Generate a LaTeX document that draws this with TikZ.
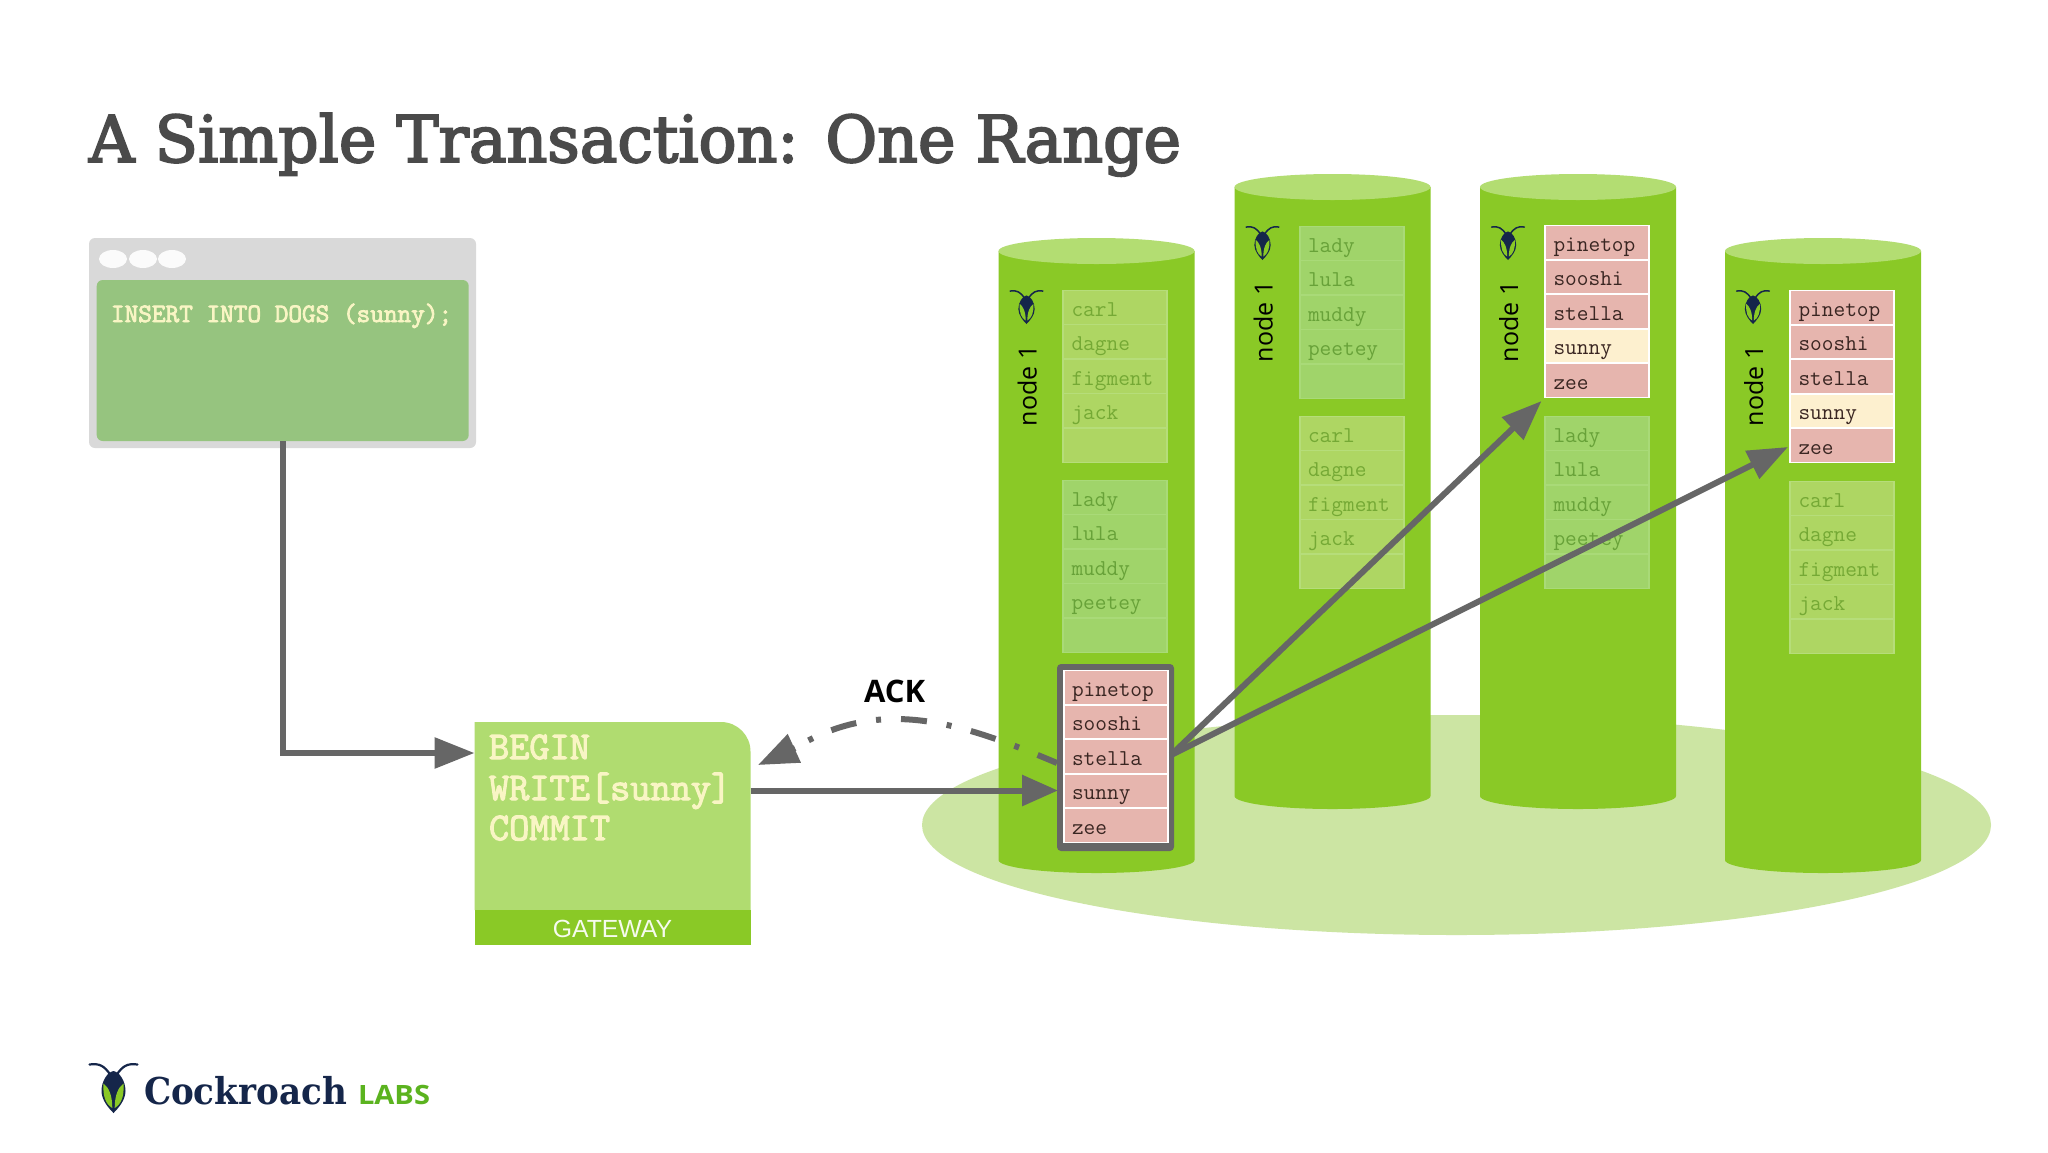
\documentclass[tikz,border=0pt]{standalone}
\usepackage{fontspec}
\usepackage{graphicx}
\setmainfont{Liberation Sans}
\setmonofont{Latin Modern Mono}
\newfontfamily\slabfont[FakeBold=3]{DejaVu Serif}
\newfontfamily\logofont{DejaVu Serif}
\newfontfamily\ackfont{Open Sans}
\newfontfamily\boldmono[FakeBold=3]{Latin Modern Mono}
\usetikzlibrary{arrows.meta,calc}
\definecolor{cylgreen}{HTML}{8AC926}
\definecolor{cyltop}{HTML}{B3DD72}
\definecolor{platform}{HTML}{CCE5A3}
\definecolor{gwlight}{HTML}{B0DC70}
\definecolor{conn}{HTML}{666666}
\definecolor{titlegrey}{HTML}{4A4A4A}
\definecolor{winouter}{HTML}{D9D9D9}
\definecolor{wininner}{HTML}{96C47F}
\definecolor{cream}{HTML}{F9F5C4}
\definecolor{pinkrow}{HTML}{E6B5AE}
\definecolor{pinktext}{HTML}{3A2622}
\definecolor{yellowrow}{HTML}{FDF0CF}
\definecolor{navy}{HTML}{15264A}
\definecolor{labsgreen}{HTML}{5BB31F}
\definecolor{fadeAborder}{HTML}{B6DD7A}
\definecolor{fadeArow}{HTML}{AED663}
\definecolor{fadeAtext}{HTML}{75A935}
\definecolor{fadeBborder}{HTML}{A9DA78}
\definecolor{fadeBrow}{HTML}{A0D46A}
\definecolor{fadeBtext}{HTML}{68A239}
\tikzset{
  plain/.style={inner sep=0pt,outer sep=0pt},
  monotext/.style={plain,anchor=base west,text=#1,font=\fontsize{11.35pt}{13pt}\ttfamily},
  connector/.style={draw=conn,line width=3pt},
  head/.style={-{Triangle[length=20pt,width=15pt]}},
  nodelabel/.style={plain,anchor=base west,rotate=90,font=\fontsize{12.5pt}{14pt}\ackfont,text=black},
  stackbox/.style={plain,minimum width=53pt,minimum height=86.25pt},
  gwtext/.style={plain,anchor=base west,text=cream,font=\fontsize{19.6pt}{22pt}\boldmono},
}
% name, x, y, border, row, text, highlighted row, labels, half gap between rows
\newcommand{\datastack}[9]{%
  \node[stackbox,anchor=north west,fill=#4] (#1) at (#2,#3) {};
  \foreach \r in {0,...,4}{%
    \ifnum\r=#7\relax\def\rc{yellowrow}\else\def\rc{#5}\fi
    \fill[\rc] ({#2+2},{#3+34.5*\r+#9}) rectangle ({#2+104},{#3+34.5*(\r+1)-#9});
  }
  \foreach \w [count=\r from 0] in {#8}{%
    \node[monotext=#6] (#1-\r) at ({#2+9.5},{#3+26+34.5*\r}) {\w};
  }
}
% x, y (top centre), scale, wing colour
\newcommand{\roach}[4]{%
  \begin{scope}[shift={(#1,#2)},scale=#3]
    \draw[navy,line width={1.1pt*#3},line cap=round] (-3,12) .. controls (-9,3) and (-14,0) .. (-24,1.5);
    \draw[navy,line width={1.1pt*#3},line cap=round] (3,12) .. controls (9,3) and (14,0) .. (24,1.5);
    \fill[navy] (0,8) .. controls (6,9) and (12,18) .. (12,28) .. controls (12,37) and (5,45) .. (0,50)
       .. controls (-5,45) and (-12,37) .. (-12,28) .. controls (-12,18) and (-6,9) .. (0,8) -- cycle;
    \fill[#4] (-1.2,45) .. controls (-8,41) and (-10.8,33) .. (-10,20.5) .. controls (-5,24) and (-1.2,32) .. (-1.2,45) -- cycle;
    \fill[#4] (1.2,45) .. controls (8,41) and (10.8,33) .. (10,20.5) .. controls (5,24) and (1.2,32) .. (1.2,45) -- cycle;
  \end{scope}
}
% x, top, bottom, name
\newcommand{\cyl}[4]{%
  \fill[cylgreen] (#1,{#2+13}) -- (#1,{#3-13}) arc[start angle=180,end angle=0,x radius=98,y radius=13] -- ({#1+196},{#2+13}) -- cycle;
  \fill[cyltop] ({#1+98},{#2+13}) ellipse[x radius=98,y radius=13];
  \roach{#1+28}{#2+52}{0.68}{cylgreen}
  \node[nodelabel] (#4) at ({#1+38},{#2+188}) {node 1};
}
\begin{document}
\begin{tikzpicture}[x=0.5pt,y=-0.5pt]
\useasboundingbox (0,0) rectangle (2048,1152);
\fill[white] (0,0) rectangle (2048,1152);

% title
\node[plain,anchor=base west,text=titlegrey] (title) at (89,162)
  {\resizebox{546pt}{\height}{\fontsize{32.2pt}{36pt}\slabfont A Simple Transaction: One Range}};

% client window
\node[plain,anchor=north west,minimum width=193.5pt,minimum height=105pt,fill=winouter,rounded corners=3pt] (window) at (89,238) {};
\node[plain,anchor=north west,minimum width=186pt,minimum height=80.5pt,fill=wininner,rounded corners=3pt] (winbody) at (96.7,280) {};
\foreach \cx in {113,143,172}{\fill[white!90!winouter] (\cx,259) ellipse[x radius=14,y radius=9];}
\node[plain,anchor=base west,text=cream,font=\fontsize{13.25pt}{15pt}\boldmono] (sql) at (111,322) {INSERT INTO DOGS (sunny);};

% platform
\fill[platform] (1456.5,825) ellipse[x radius=534.5,y radius=110];

% cylinders
\cyl{998.5}{238}{873}{label1}
\cyl{1234.5}{174}{809}{label2}
\cyl{1480}{174}{809}{label3}
\cyl{1725}{238}{873}{label4}

% stacks
\datastack{c1a}{1062}{290}{fadeAborder}{fadeArow}{fadeAtext}{-1}{carl,dagne,figment,jack}{0.6}
\datastack{c1b}{1062}{480}{fadeBborder}{fadeBrow}{fadeBtext}{-1}{lady,lula,muddy,peetey}{0.6}
\node[plain,anchor=north west,minimum width=58.5pt,minimum height=93.5pt,fill=conn,rounded corners=2pt] (leader) at (1057,664) {};
\datastack{c1c}{1062.5}{670}{white}{pinkrow}{pinktext}{-1}{pinetop,sooshi,stella,sunny,zee}{1}
\datastack{c2a}{1298.5}{226}{fadeBborder}{fadeBrow}{fadeBtext}{-1}{lady,lula,muddy,peetey}{0.6}
\datastack{c2b}{1298.5}{416}{fadeAborder}{fadeArow}{fadeAtext}{-1}{carl,dagne,figment,jack}{0.6}
\datastack{c3a}{1544}{225}{white}{pinkrow}{pinktext}{3}{pinetop,sooshi,stella,sunny,zee}{1}
\datastack{c3b}{1544}{416}{fadeBborder}{fadeBrow}{fadeBtext}{-1}{lady,lula,muddy,peetey}{0.6}
\datastack{c4a}{1789}{290}{white}{pinkrow}{pinktext}{3}{pinetop,sooshi,stella,sunny,zee}{1}
\datastack{c4b}{1789}{481}{fadeAborder}{fadeArow}{fadeAtext}{-1}{carl,dagne,figment,jack}{0.6}

% gateway
\fill[gwlight] (474.5,722) -- (721,722) arc[start angle=-90,end angle=0,radius=29.5] -- (750.5,910) -- (474.5,910) -- cycle;
\node[plain,anchor=north west,minimum width=138pt,minimum height=17.5pt,fill=cylgreen] (gwband) at (474.5,910) {};
\node[plain,anchor=base,text=white!88!gwlight,font=\fontsize{12.4pt}{14pt}\selectfont] (gwlabel) at (612.5,937) {GATEWAY};
\node[gwtext] (begin) at (489,759) {BEGIN};
\node[gwtext] (write) at (489,800) {WRITE[sunny]};
\node[gwtext] (commit) at (489,840) {COMMIT};

% connector ends
\coordinate (gwin) at (474.5,753);
\coordinate (gwout) at (750.5,790.5);
\coordinate (gwack) at (758,765);
\coordinate (ackbase) at (795,748);
\coordinate (leaderin) at (1058,790.5);
\coordinate (leaderack) at (1057,763);
\coordinate (leaderout) at (1171,755);
\coordinate (c3in) at (1541.5,401);
\coordinate (c4in) at (1788,447);

% connectors
\draw[connector,head] (winbody.south) |- (gwin);
\draw[connector,-{Triangle[length=18pt,width=15pt]}] (gwout) -- (leaderin);
\draw[connector,dash pattern=on 13pt off 10pt on 2.5pt off 10pt,dash phase=2.5pt] (leaderack) .. controls (960,722) and (880,696) .. (ackbase);
\draw[connector,head] (ackbase) -- (gwack);
\draw[connector,head] (leaderout) -- (c3in);
\draw[connector,head] (leaderout) -- (c4in);
\node[plain,anchor=base west,text=black,font=\fontsize{15.5pt}{18pt}\ackfont\bfseries] (ack) at (864,702) {ACK};

% footer logo
\roach{113.5}{1063}{1}{cylgreen}
\node[plain,anchor=base west,text=navy] (cockroach) at (144,1104)
  {\resizebox{101.5pt}{\height}{\fontsize{18.5pt}{22pt}\logofont\bfseries Cockroach}};
\node[plain,anchor=base west,text=labsgreen] (labs) at (358,1104)
  {\resizebox{36pt}{\height}{\fontsize{13.3pt}{16pt}\ackfont\bfseries LABS}};
\end{tikzpicture}
\end{document}
